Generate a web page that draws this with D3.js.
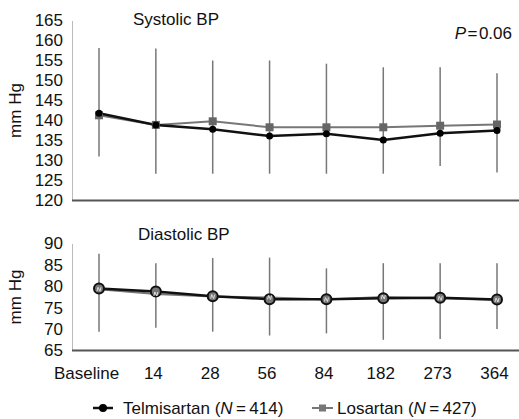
<!DOCTYPE html>
<html>
<head>
<meta charset="utf-8">
<script src="https://cdn.jsdelivr.net/npm/d3@7"></script>
<style>
  body { margin: 0; background: #fff; }
  svg { font-family: "Liberation Sans", Arial, sans-serif; }
</style>
</head>
<body>
<svg id="chart" width="519" height="419"></svg>
<script>
// days of follow-up
const days = ['Baseline', '14', '28', '56', '84', '182', '273', '364']

// systolic BP (mm Hg)
const sysTelmi = [141.8, 138.9, 137.8, 136.1, 136.7, 135.1, 136.8, 137.5]
const sysLosar = [141.3, 138.9, 139.8, 138.3, 138.3, 138.3, 138.7, 139.0]
const sysHigh = [158.1, 158.0, 155.0, 155.0, 154.2, 153.3, 153.3, 151.8]
const sysLow = [131.0, 126.7, 126.7, 126.7, 126.7, 126.7, 128.6, 127.0]

// diastolic BP (mm Hg)
const diaTelmi = [79.5, 78.8, 77.7, 77.0, 77.0, 77.2, 77.3, 76.9]
const diaLosar = [79.3, 78.2, 77.6, 77.4, 76.9, 77.5, 77.2, 76.8]
const diaHigh = [87.6, 85.4, 86.6, 86.7, 84.2, 85.4, 85.4, 85.4]
const diaLow = [69.4, 70.3, 69.4, 68.5, 69.0, 67.5, 67.7, 70.0]

const sysTicks = [120, 125, 130, 135, 140, 145, 150, 155, 160, 165]
const diaTicks = [65, 70, 75, 80, 85, 90]

const svg = d3.select('#chart')
const left = 72, right = 519
const fs = 17 //font size

let x = d3.scalePoint()
    .domain(days)
    .range([99, 497])

//Draw one panel
function drawPanel(opt){

    let y = d3.scaleLinear()
        .domain(opt.domain)
        .range(opt.range)

    let g = svg.append('g')

    // y axis labels
    let yAxis = g.append('g')
        .attr('transform', 'translate(' + left + ',0)')
        .call(d3.axisLeft(y).tickValues(opt.ticks).tickSize(0).tickPadding(9))
    yAxis.select('.domain').attr('stroke', '#bbb').attr('stroke-width', 1)
    yAxis.selectAll('text')
        .attr('font-size', fs)
        .attr('font-family', '"Liberation Sans", Arial, sans-serif')
        .attr('fill', '#111')

    // bottom axis line
    g.append('line')
        .attr('x1', left)
        .attr('x2', right)
        .attr('y1', y(opt.domain[0]))
        .attr('y2', y(opt.domain[0]))
        .attr('stroke', '#555')
        .attr('stroke-width', 2)

    // y label
    g.append('text')
        .attr('transform', 'translate(21,' + (y(opt.domain[0]) + y(opt.domain[1])) / 2 + ') rotate(-90)')
        .attr('text-anchor', 'middle')
        .attr('font-size', fs)
        .attr('fill', '#111')
        .text('mm Hg')

    // title
    g.append('text')
        .attr('x', opt.titleX)
        .attr('y', opt.titleY)
        .attr('font-size', fs)
        .attr('fill', '#111')
        .text(opt.title)

    // error bars
    g.selectAll('.err')
        .data(days)
        .enter()
        .append('line')
        .attr('x1', d => x(d))
        .attr('x2', d => x(d))
        .attr('y1', (d, i) => y(opt.high[i]))
        .attr('y2', (d, i) => y(opt.low[i]))
        .attr('stroke', '#777')
        .attr('stroke-width', 1.5)

    let line = d3.line()
        .x((d, i) => x(days[i]))
        .y(d => y(d))

    // losartan
    g.append('path')
        .datum(opt.losar)
        .attr('d', line)
        .attr('fill', 'none')
        .attr('stroke', '#777')
        .attr('stroke-width', 2)

    // telmisartan
    g.append('path')
        .datum(opt.telmi)
        .attr('d', line)
        .attr('fill', 'none')
        .attr('stroke', '#111')
        .attr('stroke-width', 2.5)

    let s = opt.markSize
    if(opt.big){
        g.selectAll('.tm')
            .data(opt.telmi)
            .enter()
            .append('circle')
            .attr('cx', (d, i) => x(days[i]))
            .attr('cy', d => y(d))
            .attr('r', 5)
            .attr('fill', '#777')
            .attr('stroke', '#111')
            .attr('stroke-width', 2)
        g.selectAll('.lm')
            .data(opt.losar)
            .enter()
            .append('path')
            .attr('d', (d, i) => {
                let cx = x(days[i]), cy = y(d)
                return 'M' + (cx - 2) + ',' + (cy + 2) + 'L' + (cx - 1) + ',' + (cy - 2) + 'L' + (cx + 1) + ',' + (cy + 2) + 'L' + (cx + 2) + ',' + (cy - 2)
            })
            .attr('fill', 'none')
            .attr('stroke', '#ddd')
            .attr('stroke-width', 1)
    }
    else{
        g.selectAll('.lm')
            .data(opt.losar)
            .enter()
            .append('rect')
            .attr('x', (d, i) => x(days[i]) - s / 2)
            .attr('y', d => y(d) - s / 2)
            .attr('width', s)
            .attr('height', s)
            .attr('fill', '#666')
        g.selectAll('.tm')
            .data(opt.telmi)
            .enter()
            .append('circle')
            .attr('cx', (d, i) => x(days[i]))
            .attr('cy', d => y(d))
            .attr('r', 3.5)
            .attr('fill', '#000')
    }
    return y
}

drawPanel({
    domain: [120, 165], range: [200.5, 20.5], ticks: sysTicks,
    telmi: sysTelmi, losar: sysLosar, high: sysHigh, low: sysLow,
    title: 'Systolic BP', titleX: 133, titleY: 25, markSize: 8, big: false
})

drawPanel({
    domain: [65, 90], range: [350.5, 243.5], ticks: diaTicks,
    telmi: diaTelmi, losar: diaLosar, high: diaHigh, low: diaLow,
    title: 'Diastolic BP', titleX: 138, titleY: 240, markSize: 8, big: true
})

// x axis labels
let xAxis = svg.append('g')
    .attr('transform', 'translate(-3,351)')
    .call(d3.axisBottom(x).tickSize(0).tickPadding(16))
xAxis.select('.domain').remove()
xAxis.selectAll('text')
    .attr('font-size', fs)
    .attr('font-family', '"Liberation Sans", Arial, sans-serif')
    .attr('fill', '#111')
    .attr('dx', d => d == 'Baseline' ? -10 : 0)

// P value
let p = svg.append('text')
    .attr('x', 512)
    .attr('y', 39)
    .attr('text-anchor', 'end')
    .attr('font-size', fs)
    .attr('fill', '#111')
p.append('tspan').attr('font-style', 'italic').text('P')
p.append('tspan').text('\u200A=\u200A0.06')

// legend
let legend = svg.append('g').attr('transform', 'translate(0,408)')

legend.append('line')
    .attr('x1', 93).attr('x2', 113).attr('y1', 0).attr('y2', 0)
    .attr('stroke', '#111').attr('stroke-width', 2.5)
legend.append('circle')
    .attr('cx', 103).attr('cy', 0).attr('r', 4).attr('fill', '#000')
let t1 = legend.append('text')
    .attr('x', 123).attr('y', 6).attr('font-size', fs).attr('fill', '#111')
t1.append('tspan').text('Telmisartan (')
t1.append('tspan').attr('font-style', 'italic').text('N')
t1.append('tspan').text('\u2009=\u2009414)')

legend.append('line')
    .attr('x1', 312).attr('x2', 333).attr('y1', 0).attr('y2', 0)
    .attr('stroke', '#777').attr('stroke-width', 2)
legend.append('rect')
    .attr('x', 319).attr('y', -3.5).attr('width', 7).attr('height', 7).attr('fill', '#777')
let t2 = legend.append('text')
    .attr('x', 337).attr('y', 6).attr('font-size', fs).attr('fill', '#111')
t2.append('tspan').text('Losartan (')
t2.append('tspan').attr('font-style', 'italic').text('N')
t2.append('tspan').text('\u2009=\u2009427)')
</script>
</body>
</html>
